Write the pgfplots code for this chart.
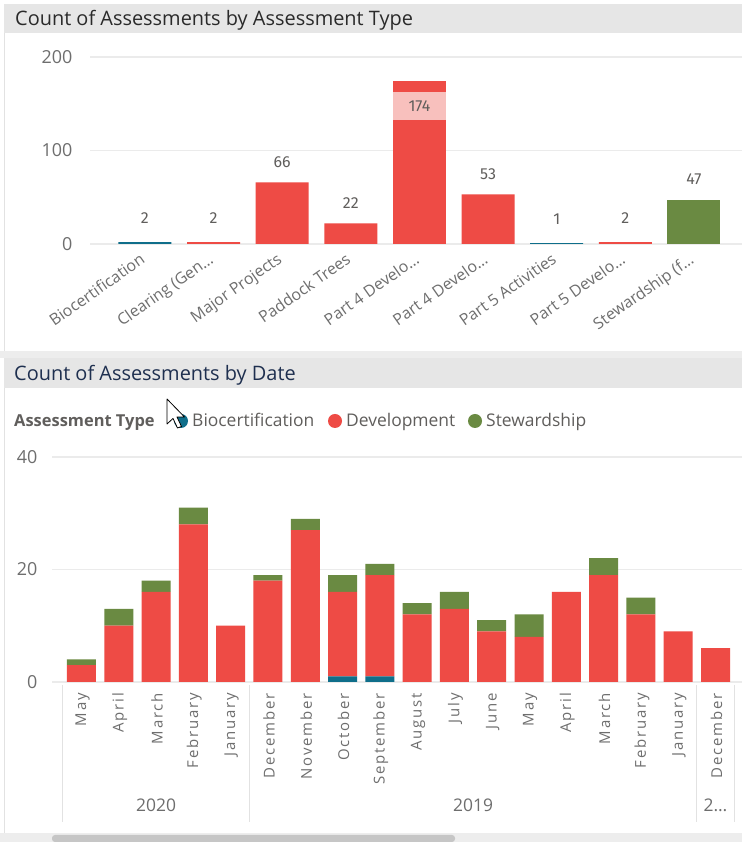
\documentclass[border=0pt]{standalone}
\usepackage{pgfplots}
\pgfplotsset{compat=1.18}
\usepackage{fontspec}
\setmainfont{Open Sans}
\newfontfamily\numfont{Fira Sans}
\newfontfamily\monthfont[LetterSpace=12]{Open Sans}
\definecolor{devred}{HTML}{EE4B45}
\definecolor{stewgreen}{HTML}{6A8A42}
\definecolor{biob}{HTML}{0F6E8A}
\definecolor{pinkhl}{HTML}{F8C0BD}
\definecolor{titlebar}{HTML}{E6E6E6}
\definecolor{gapgray}{HTML}{EDEDED}
\definecolor{txtgray}{HTML}{605E5C}
\definecolor{lblgray}{HTML}{6E6E6E}
\definecolor{gridc}{HTML}{EBEBEB}
\definecolor{sepc}{HTML}{E2E2E2}
\definecolor{titlec}{HTML}{2A2A2A}
\definecolor{titlec2}{HTML}{1E2F4F}

\pgfplotstableread{
x bio dev stew
0 0 3 1
1 0 10 3
2 0 16 2
3 0 28 3
4 0 10 0
5 0 18 1
6 0 27 2
7 1 15 3
8 1 18 2
9 0 12 2
10 0 13 3
11 0 9 2
12 0 8 4
13 0 16 0
14 0 19 3
15 0 12 3
16 0 9 0
17 0 6 0
}\datetable

\begin{document}
\begin{tikzpicture}[x=1bp,y=1bp]
\useasboundingbox (0,0) rectangle (742,842);
\fill[white] (0,0) rectangle (742,842);
% top panel
\fill[titlebar] (4,809) rectangle (742,838);
\node[anchor=base west, font=\fontsize{20}{24}\selectfont, text=titlec, inner sep=0] at (15,816) {Count of Assessments by Assessment Type};
\draw[sepc, line width=1] (4.5,491) -- (4.5,809);
% gap
\fill[gapgray] (0,484) rectangle (742,491);
% bottom panel title
\fill[titlebar] (4,454) rectangle (742,484);
\node[anchor=base west, font=\fontsize{20}{24}\selectfont, text=titlec2, inner sep=0] at (14,461) {Count of Assessments by Date};
\draw[sepc, line width=1] (4.5,9) -- (4.5,454);

\begin{axis}[
  at={(90bp,598bp)}, anchor=south west, scale only axis,
  width=652bp, height=187bp,
  xmin=-0.8, xmax=8.70, ymin=0, ymax=200,
  axis line style={draw=none}, major tick length=0pt,
  ymajorgrids, major grid style={gridc, line width=1.2pt},
  ytick={0,100,200},
  yticklabel style={font=\fontsize{18}{21}\selectfont, text=lblgray, xshift=-14bp},
  xtick={0,1,2,3,4,5,6,7,8},
  xticklabels={Biocertification,Clearing (Gen…,Major Projects,Paddock Trees,Part 4 Develo…,Part 4 Develo…,Part 5 Activities,Part 5 Develo…,Stewardship (f…},
  xticklabel style={font=\fontsize{16}{19}\selectfont, text=lblgray, xshift=-6bp, yshift=-8bp, rotate=35, anchor=north east, inner sep=0pt},
  /pgf/number format/assume math mode=true,
  clip=false,
  nodes near coords style={font=\numfont\fontsize{16}{19}\selectfont, text=txtgray, anchor=base, yshift=15bp, inner sep=0pt},
]
\addplot[ybar, bar width=53bp, bar shift=0pt, fill=biob, draw=none, nodes near coords,
  nodes near coords style={yshift=4bp}] coordinates {(0,2) (6,1)};
\addplot[ybar, bar width=53bp, bar shift=0pt, fill=devred, draw=none, nodes near coords] coordinates {(2,66) (3,22) (5,53)};
\addplot[ybar, bar width=53bp, bar shift=0pt, fill=devred, draw=none, nodes near coords,
  nodes near coords style={yshift=4bp}] coordinates {(1,2) (7,2)};
\addplot[ybar, bar width=53bp, bar shift=0pt, fill=stewgreen, draw=none, nodes near coords,
  nodes near coords style={yshift=1bp}] coordinates {(8,47)};
\addplot[ybar, bar width=53bp, bar shift=0pt, fill=devred, draw=none, nodes near coords,
  nodes near coords style={anchor=north, yshift=-26bp, fill=pinkhl, minimum width=53bp, minimum height=28bp, inner sep=0pt}] coordinates {(4,174)};
\end{axis}

\begin{axis}[
  at={(52bp,160bp)}, anchor=south west, scale only axis,
  width=690bp, height=225bp,
  xmin=-0.79, xmax=17.71, ymin=0, ymax=40,
  axis line style={draw=none}, major tick length=0pt,
  ymajorgrids, major grid style={gridc, line width=1.2pt},
  ytick={0,20,40},
  yticklabel style={font=\fontsize{18}{21}\selectfont, text=lblgray, xshift=-11bp},
  xtick={0,1,2,3,4,5,6,7,8,9,10,11,12,13,14,15,16,17},
  xticklabels={May,April,March,February,January,December,November,October,September,August,July,June,May,April,March,February,January,December},
  xticklabel style={font=\monthfont\fontsize{15}{18}\selectfont, text=lblgray, yshift=-11bp, xshift=1bp, rotate=90, anchor=east, inner sep=0pt},
  /pgf/number format/assume math mode=true,
  ybar stacked, bar width=29bp,
  clip=false,
]
\addplot[fill=biob, draw=none] table[x=x, y=bio] {\datetable};
\addplot[fill=devred, draw=none] table[x=x, y=dev] {\datetable};
\addplot[fill=stewgreen, draw=none] table[x=x, y=stew] {\datetable};
\draw[sepc, line width=1pt] ([yshift=-3bp]axis cs:-0.5,0) -- ([yshift=-140bp]axis cs:-0.5,0);
\draw[sepc, line width=1pt] ([yshift=-3bp]axis cs:4.5,0) -- ([yshift=-140bp]axis cs:4.5,0);
\draw[sepc, line width=1pt] ([yshift=-3bp]axis cs:16.5,0) -- ([yshift=-140bp]axis cs:16.5,0);
\draw[sepc, line width=1pt] ([yshift=-3bp]axis cs:17.52,0) -- ([yshift=-140bp]axis cs:17.52,0);
\node[font=\fontsize{17.5}{21}\selectfont, text=lblgray] at ([yshift=-123bp]axis cs:2,0) {2020};
\node[font=\fontsize{17.5}{21}\selectfont, text=lblgray] at ([yshift=-123bp]axis cs:10.5,0) {2019};
\node[font=\fontsize{17.5}{21}\selectfont, text=lblgray] at ([yshift=-123bp]axis cs:17,0) {2…};
\end{axis}

% legend
\node[anchor=base west, font=\bfseries\fontsize{16.5}{20}\selectfont, text=txtgray, inner sep=0] at (14,415) {Assessment Type};
\fill[biob] (181,421) circle (7);
\node[anchor=base west, font=\fontsize{17.5}{21}\selectfont, text=txtgray, inner sep=0] at (192,415) {Biocertification};
\fill[devred] (335,421) circle (7);
\node[anchor=base west, font=\fontsize{17.5}{21}\selectfont, text=txtgray, inner sep=0] at (346,415) {Development};
\fill[stewgreen] (475,421) circle (7);
\node[anchor=base west, font=\fontsize{17.5}{21}\selectfont, text=txtgray, inner sep=0] at (486,415) {Stewardship};
% mouse cursor
\filldraw[fill=white, draw=black, line width=0.8, line join=round, shift={(167,443)}]
  (0,0) -- (0,-25) -- (6,-19.5) -- (10.5,-29) -- (14.5,-27.5) -- (10,-18) -- (17.5,-18) -- cycle;

% scrollbar
\fill[gapgray] (0,0) rectangle (742,9);
\fill[gray!45, rounded corners=3] (52,0) rectangle (455,7);
\end{tikzpicture}
\end{document}
